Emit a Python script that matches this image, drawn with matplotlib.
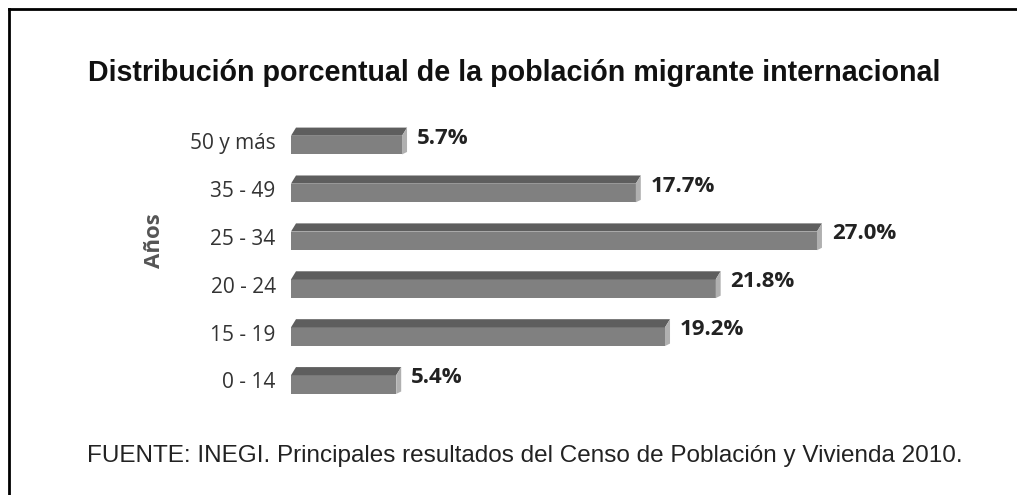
import numpy as np
import matplotlib.pyplot as plt
from matplotlib.patches import Polygon
from matplotlib.lines import Line2D

# Datos
grupos = ['0 - 14', '15 - 19', '20 - 24', '25 - 34', '35 - 49', '50 y más']
porcentajes = [5.4, 19.2, 21.8, 27.0, 17.7, 5.7]
etiquetas = ['5.4%', '19.2%', '21.8%', '27.0%', '17.7%', '5.7%']

titulo = 'Distribución porcentual de la población migrante internacional'
fuente = 'FUENTE: INEGI. Principales resultados del Censo de Población y Vivienda 2010.'

# Colores de la barra "3D"
c_frente = '#808080'
c_arriba = '#5e5e5e'
c_lado = '#b0b0b0'

W, H = 1017, 495
fig = plt.figure(figsize=(W / 100, H / 100), dpi=100)

# ejes colocados en pixeles
x0_px, px_por_unidad = 291, 19.48
ax_right = 1000
y_top, y_bot = 117.05, 404.45
ax = fig.add_axes([x0_px / W, 1 - y_bot / H, (ax_right - x0_px) / W, (y_bot - y_top) / H])
ax.set_xlim(0, (ax_right - x0_px) / px_por_unidad)
ax.set_ylim(-0.5, 5.5)
for s in ax.spines.values():
    s.set_visible(False)
ax.set_xticks([])

alto_total = 0.56
prof_y = 0.17           # profundidad vertical del bisel superior
prof_x = 5 / px_por_unidad  # desplazamiento horizontal
alto_frente = alto_total - prof_y

pos = np.arange(len(grupos))
centros = pos - alto_total / 2 + alto_frente / 2
ax.barh(centros, porcentajes, height=alto_frente, left=0, color=c_frente,
        edgecolor='none', zorder=2)

for y, v in zip(pos, porcentajes):
    ybase = y - alto_total / 2
    yf = ybase + alto_frente
    yt = y + alto_total / 2
    arriba = Polygon([[0, yf], [prof_x, yt], [v + prof_x, yt], [v, yf]],
                     closed=True, facecolor=c_arriba, edgecolor='none', zorder=2)
    lado = Polygon([[v, yf], [v + prof_x, yt], [v + prof_x, ybase + prof_y * 0.3], [v, ybase]],
                   closed=True, facecolor=c_lado, edgecolor='none', zorder=2)
    ax.add_patch(arriba)
    ax.add_patch(lado)

for y, v, t in zip(pos, porcentajes, etiquetas):
    ax.text(v + prof_x + 0.5, y + 0.06, t, ha='left', va='center',
            fontsize=16, fontweight='bold', family='Open Sans', color='#222222')

ax.set_yticks(pos)
ax.set_yticklabels(grupos, fontsize=15, family='Open Sans', color='#333333')
ax.tick_params(axis='y', length=0, pad=11)

ax.set_ylabel('Años', fontsize=16, fontweight='bold', family='Open Sans', color='#555555')
ax.yaxis.set_label_coords(-0.178, 0.569)

fig.text(88 / W, 1 - 73 / H, titulo, ha='left', va='center', fontsize=20.6,
         fontweight='bold', family='Liberation Sans', color='#111111')
fig.text(87 / W, 1 - 456 / H, fuente, ha='left', va='center', fontsize=17.5,
         family='Liberation Sans', color='#222222')

# marco
fig.add_artist(Line2D([9 / W, 1], [1 - 9 / H, 1 - 9 / H], transform=fig.transFigure,
                      color='black', lw=2))
fig.add_artist(Line2D([9 / W, 9 / W], [0, 1 - 9 / H], transform=fig.transFigure,
                      color='black', lw=2))

fig.savefig('out.png', dpi=100)
